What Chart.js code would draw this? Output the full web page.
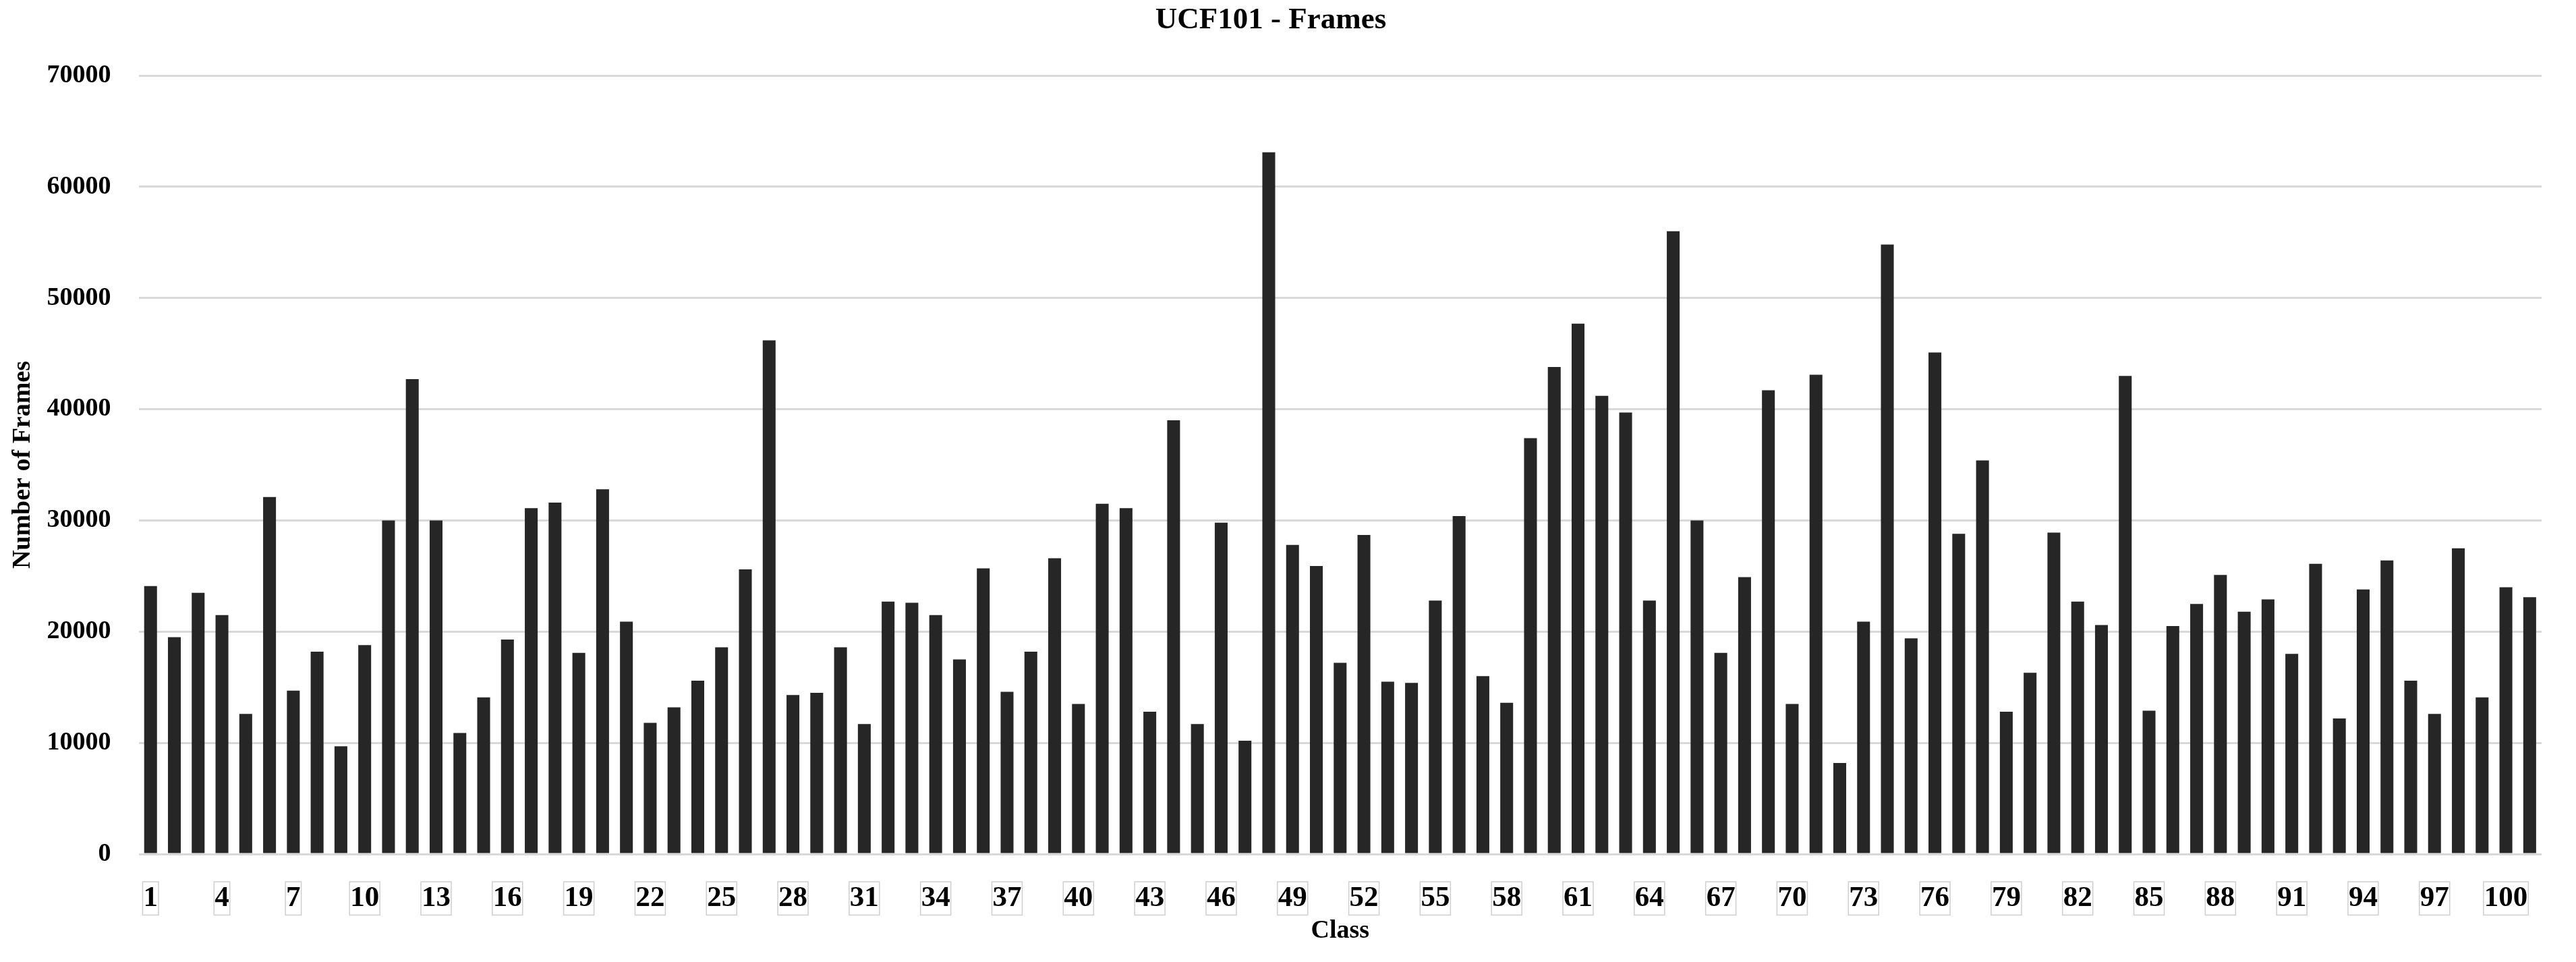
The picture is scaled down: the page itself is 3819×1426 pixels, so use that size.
<!DOCTYPE html>
<html>
<head>
<meta charset="utf-8">
<script src="https://cdn.jsdelivr.net/npm/chart.js@4"></script>
<style>
  body { margin: 0; background: #fff; }
  #wrap { width: 3819px; height: 1426px; }
</style>
</head>
<body>
<div id="wrap"><canvas id="framesChart"></canvas></div>
<script>
var classes = [1, 2, 3, 4, 5, 6, 7, 8, 9, 10, 11, 12, 13, 14, 15, 16, 17, 18, 19, 20,
    21, 22, 23, 24, 25, 26, 27, 28, 29, 30, 31, 32, 33, 34, 35, 36, 37, 38, 39, 40,
    41, 42, 43, 44, 45, 46, 47, 48, 49, 50, 51, 52, 53, 54, 55, 56, 57, 58, 59, 60,
    61, 62, 63, 64, 65, 66, 67, 68, 69, 70, 71, 72, 73, 74, 75, 76, 77, 78, 79, 80,
    81, 82, 83, 84, 85, 86, 87, 88, 89, 90, 91, 92, 93, 94, 95, 96, 97, 98, 99, 100, 101];

var frames = [24100, 19500, 23500, 21500, 12600, 32100, 14700, 18200, 9700, 18800,
    30000, 42700, 30000, 10900, 14100, 19300, 31100, 31600, 18100, 32800,
    20900, 11800, 13200, 15600, 18600, 25600, 46200, 14300, 14500, 18600,
    11700, 22700, 22600, 21500, 17500, 25700, 14600, 18200, 26600, 13500,
    31500, 31100, 12800, 39000, 11700, 29800, 10200, 63100, 27800, 25900,
    17200, 28700, 15500, 15400, 22800, 30400, 16000, 13600, 37400, 43800,
    47700, 41200, 39700, 22800, 56000, 30000, 18100, 24900, 41700, 13500,
    43100, 8200, 20900, 54800, 19400, 45100, 28800, 35400, 12800, 16300,
    28900, 22700, 20600, 43000, 12900, 20500, 22500, 25100, 21800, 22900,
    18000, 26100, 12200, 23800, 26400, 15600, 12600, 27500, 14100, 24000, 23100];

var shownTicks = ['1', '4', '7', '10', '13', '16', '19', '22', '25', '28', '31', '34', '37',
    '40', '43', '46', '49', '52', '55', '58', '61', '64', '67', '70', '73', '76', '79', '82',
    '85', '88', '91', '94', '97', '100'];

var serif = '"Liberation Serif", "Times New Roman", serif';

// thin grey frame round each class label, like the original
var tickBoxes = {
    id: 'tickBoxes',
    afterDraw: function(chart) {
        var scale = chart.scales.x;
        var items = scale.getLabelItems ? scale.getLabelItems() : [];
        var ctx = chart.ctx;
        ctx.save();
        ctx.strokeStyle = '#cfcfcf';
        ctx.lineWidth = 1.5;
        items.forEach(function(it) {
            var o = it.options;
            if (!o || !o.backdrop || !it.label) return;
            var t = o.translation;
            ctx.strokeRect(t[0] + o.backdrop.left, t[1] + o.backdrop.top, o.backdrop.width, o.backdrop.height);
        });
        ctx.restore();
    }
};

document.addEventListener('DOMContentLoaded', function() {
    var ctx = document.getElementById('framesChart').getContext('2d');
    var framesChart = new Chart(ctx, {
        type: 'bar',
        data: {
            labels: classes,
            datasets: [{
                label: 'Frames',
                backgroundColor: '#262626',
                borderWidth: 0,
                categoryPercentage: 1.0,
                barPercentage: 0.54,
                data: frames
            }]
        },
        options: {
            responsive: true,
            maintainAspectRatio: false,
            animation: false,
            layout: { padding: { top: 0, right: 51, bottom: 0, left: 0 } },
            plugins: {
                legend: { display: false },
                tooltip: { enabled: false },
                title: {
                    display: true,
                    text: 'UCF101 - Frames',
                    color: '#000',
                    font: { family: serif, size: 45, weight: 'bold', lineHeight: 1.2 },
                    padding: { top: 3, bottom: 55 }
                }
            },
            scales: {
                x: {
                    grid: { display: false },
                    border: { display: false },
                    ticks: {
                        autoSkip: false,
                        maxRotation: 0,
                        color: '#000',
                        padding: 34,
                        font: { family: serif, size: 43, weight: 'bold', lineHeight: 1.1 },
                        showLabelBackdrop: true,
                        backdropColor: '#fff',
                        backdropPadding: { x: 1, y: 1 },
                        callback: function(value, index) {
                            var lab = String(classes[index]);
                            return shownTicks.indexOf(lab) >= 0 ? lab : '';
                        }
                    },
                    title: {
                        display: true,
                        text: 'Class',
                        color: '#000',
                        font: { family: serif, size: 38, weight: 'bold', lineHeight: 1.2 },
                        padding: { top: -32, bottom: 23 }
                    }
                },
                y: {
                    min: 0,
                    max: 70000,
                    grid: { color: '#d9d9d9', lineWidth: 3, drawTicks: false },
                    border: { display: false },
                    ticks: {
                        stepSize: 10000,
                        color: '#000',
                        padding: 41,
                        font: { family: serif, size: 38, weight: 'bold' },
                        callback: function(value) { return String(value); }
                    },
                    title: {
                        display: true,
                        text: 'Number of Frames',
                        color: '#000',
                        font: { family: serif, size: 38, weight: 'bold', lineHeight: 1.2 },
                        padding: { top: 11, bottom: -28 }
                    }
                }
            }
        },
        plugins: [tickBoxes]
    });
});
</script>
</body>
</html>
